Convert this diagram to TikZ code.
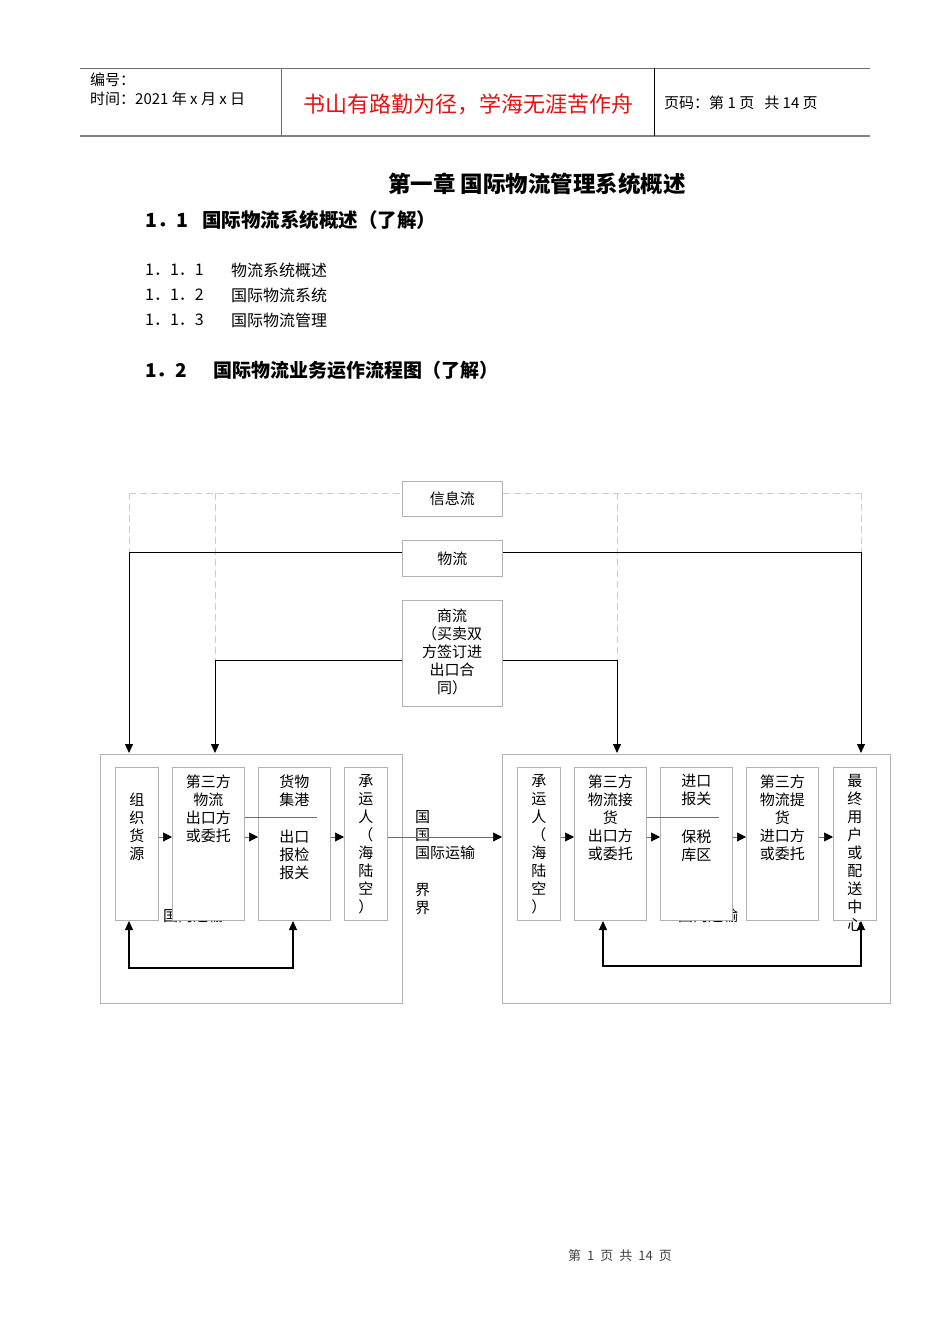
\documentclass[tikz,border=0pt]{standalone}
\usepackage{fontspec}
\setmainfont{Noto Sans CJK SC}
\usetikzlibrary{arrows.meta,positioning}
\definecolor{boxgray}{RGB}{178,178,178}
\definecolor{dashgray}{RGB}{205,205,205}
\definecolor{linegray}{RGB}{110,110,110}
\definecolor{mottored}{RGB}{228,18,18}

\begin{document}
\begin{tikzpicture}[x=1pt,y=-1pt,
  every node/.style={inner sep=0pt,font=\fontsize{15}{18}\selectfont},
  zone/.style={draw=boxgray,line width=0.8pt,anchor=north west},
  stage/.style={draw=boxgray,fill=white,line width=0.8pt,anchor=north west,minimum height=153pt},
  flowbox/.style={draw=boxgray,fill=white,line width=0.8pt,anchor=north west,minimum width=100pt},
  txt/.style={anchor=north,align=center},
  link/.style={black,line width=1pt,-{Triangle[length=9pt,width=8pt]}},
  both/.style={black,line width=1.2pt,{Triangle[length=9pt,width=8pt]}-{Triangle[length=9pt,width=8pt]}},
  hop/.style={linegray,line width=0.6pt,-{Triangle[length=9pt,width=9pt,color=black]}},
  dashline/.style={dashgray,line width=0.8pt,dash pattern=on 7pt off 4pt}]
\useasboundingbox (0,0) rectangle (950,1344);

\draw[linegray,line width=0.8pt] (80,68) -- (870,68);
\draw[gray,line width=1.6pt] (80,136) -- (870,136);
\draw[linegray,line width=0.8pt] (281,68) -- (281,136);
\draw[black,line width=0.8pt] (654,68) -- (654,136);
\node[anchor=west] (hno) at (90,80) {编号：};
\node[anchor=west] (hdate) at (90,99) {时间：2021 年 x 月 x 日};
\node[font=\fontsize{22}{26}\selectfont,text=mottored] (motto) at (468,104) {书山有路勤为径，学海无涯苦作舟};
\node[anchor=west] (hpage) at (664,103) {页码：第 1 页\ \ \ 共 14 页};

\node[font=\fontsize{22.5}{26}\selectfont\bfseries] (title) at (537,184) {第一章\ 国际物流管理系统概述};
\node[anchor=west,font=\fontsize{19.5}{23}\selectfont\bfseries] (sec1) at (145,220) {1．1};
\node[anchor=west,font=\fontsize{19.5}{23}\selectfont\bfseries] (sec1t) at (202,220) {国际物流系统概述（了解）};
\node[anchor=west,font=\fontsize{16}{19}\selectfont] (sub1) at (145,270) {1．1．1};
\node[anchor=west,font=\fontsize{16}{19}\selectfont] (sub1t) at (231,270) {物流系统概述};
\node[anchor=west,font=\fontsize{16}{19}\selectfont] (sub2) at (145,295) {1．1．2};
\node[anchor=west,font=\fontsize{16}{19}\selectfont] (sub2t) at (231,295) {国际物流系统};
\node[anchor=west,font=\fontsize{16}{19}\selectfont] (sub3) at (145,320) {1．1．3};
\node[anchor=west,font=\fontsize{16}{19}\selectfont] (sub3t) at (231,320) {国际物流管理};
\node[anchor=west,font=\fontsize{19}{23}\selectfont\bfseries] (sec2) at (145,370) {1．2};
\node[anchor=west,font=\fontsize{19}{23}\selectfont\bfseries] (sec2t) at (213,370) {国际物流业务运作流程图（了解）};

\node[zone,minimum width=302pt,minimum height=249pt] (lz) at (100,754) {};
\node[zone,minimum width=388pt,minimum height=249pt] (rz) at (502,754) {};

\coordinate (da) at (129,493);
\coordinate (db) at (215,493);
\coordinate (dc) at (617,493);
\coordinate (dd) at (861,493);
\draw[dashline] (da) -- (dd);
\draw[dashline] (da) -- ++(0,59);
\draw[dashline] (db) -- ++(0,167);
\draw[dashline] (dc) -- ++(0,167);
\draw[dashline] (dd) -- ++(0,59);

\node[flowbox,minimum height=35pt] (info) at (402,481) {};
\node (infot) at (info.center) {信息流};
\node[flowbox,minimum height=36pt] (goods) at (402,540) {};
\node (goodst) at (goods.center) {物流};
\node[flowbox,minimum height=106pt] (trade) at (402,600) {};
\node[txt] (tradet) at (452,608.5) {商流\\（买卖双\\方签订进\\出口合\\同）};

\coordinate (ina) at (129,753);
\coordinate (inb) at (215,753);
\coordinate (inc) at (617,753);
\coordinate (ind) at (861,753);
\draw[link] (goods.west |- 0,552) -| (ina);
\draw[link] (goods.east |- 0,552) -| (ind);
\draw[link] (trade.west |- 0,660) -| (inb);
\draw[link] (trade.east |- 0,660) -| (inc);

\node[anchor=west] (homel) at (163,916) {国内运输};
\node[anchor=west] (homer) at (678,916) {国内运输};

\node[stage,minimum width=43pt] (s1) at (115,767) {};
\node[stage,minimum width=72pt] (s2) at (172,767) {};
\node[stage,minimum width=72pt] (s3) at (258,767) {};
\node[stage,minimum width=43pt] (s4) at (344,767) {};
\node[stage,minimum width=43pt] (r1) at (517,767) {};
\node[stage,minimum width=72pt] (r2) at (574,767) {};
\node[stage,minimum width=72pt] (r3) at (660,767) {};
\node[stage,minimum width=72pt] (r4) at (746,767) {};
\node[stage,minimum width=43pt] (r5) at (833,767) {};

\node[txt] (s1t) at (s1.north |- 0,792.5) {组\\织\\货\\源};
\node[txt] (s2t) at (s2.north |- 0,774.5) {第三方\\物流\\出口方\\或委托};
\node[txt] (s3t) at (s3.north |- 0,774.5) {货物\\集港};
\node[txt] (s3b) at (s3.north |- 0,829.5) {出口\\报检\\报关};
\node[txt] (s4t) at (s4.north |- 0,774.5) {承\\运\\人\\（\\海\\陆\\空\\）};
\node[txt] (r1t) at (r1.north |- 0,774.5) {承\\运\\人\\（\\海\\陆\\空\\）};
\node[txt] (r2t) at (r2.north |- 0,774.5) {第三方\\物流接\\货\\出口方\\或委托};
\node[txt] (r3t) at (r3.north |- 0,774.5) {进口\\报关};
\node[txt] (r3b) at (r3.north |- 0,829.5) {保税\\库区};
\node[txt] (r4t) at (r4.north |- 0,774.5) {第三方\\物流提\\货\\进口方\\或委托};
\node[txt] (r5t) at (r5.north |- 0,774.5) {最\\终\\用\\户\\或\\配\\送\\中\\心};

\node[anchor=north west,align=left] (border) at (415,810) {国\\国\\国际运输\\[1pt]\\界\\界};

\coordinate (ymid) at (0,837);
\coordinate (ysep) at (0,817);
\draw[linegray,line width=0.6pt] (s2.east |- ysep) -- ++(72,0);
\draw[linegray,line width=0.6pt] (r2.east |- ysep) -- ++(72,0);
\draw[hop] (s1.east |- ymid) -- (s2.west |- ymid);
\draw[hop] (s2.east |- ymid) -- (s3.west |- ymid);
\draw[hop] (s3.east |- ymid) -- (s4.west |- ymid);
\draw[hop] (s4.east |- ymid) -- (rz.west |- ymid);
\draw[hop] (r1.east |- ymid) -- (r2.west |- ymid);
\draw[hop] (r2.east |- ymid) -- (r3.west |- ymid);
\draw[hop] (r3.east |- ymid) -- (r4.west |- ymid);
\draw[hop] (r4.east |- ymid) -- (r5.west |- ymid);

\coordinate (lpa) at (129,921);
\coordinate (lpb) at (293,921);
\coordinate (rpa) at (603,921);
\coordinate (rpb) at (861,921);
\draw[both] (lpa) -- ++(0,47) -| (lpb);
\draw[both] (rpa) -- ++(0,45) -| (rpb);

\node[font=\fontsize{13}{16}\selectfont,text=black!75] (foot) at (620,1256) {第\hspace{6pt}1\hspace{6pt}页\hspace{6pt}共\hspace{6pt}14\hspace{6pt}页};
\end{tikzpicture}
\end{document}
